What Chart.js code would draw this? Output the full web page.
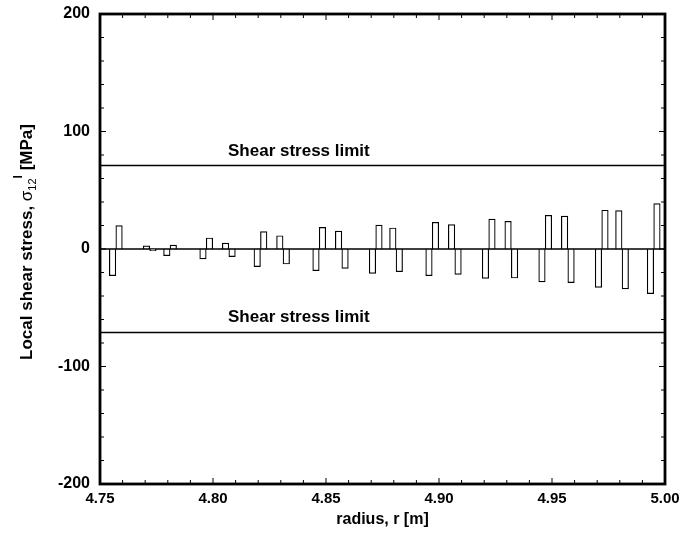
<!DOCTYPE html>
<html>
<head>
<meta charset="utf-8">
<script src="https://cdn.jsdelivr.net/npm/chart.js@4"></script>
<style>
  body { margin: 0; background: #fff; }
  canvas { display: block; }
</style>
</head>
<body>
<canvas id="chart" width="683" height="533"></canvas>
<script>
// pair positions along the radius [m] and the two bars of each pair [MPa]
const radius = [4.757, 4.772, 4.781, 4.797, 4.807, 4.821, 4.831, 4.847, 4.857, 4.872,
                4.881, 4.897, 4.907, 4.922, 4.932, 4.947, 4.957, 4.972, 4.981, 4.995];
const leftBar = [-22.7, 2.6, -5.7, -8.5, 5.1, -15, 11.3, -18.5, 15.3, -20.7,
                 17.9, -22.7, 20.7, -25, 23.6, -28, 28, -32.6, 32.7, -38];
const rightBar = [19.9, -1.4, 3.4, 9.4, -6.5, 14.8, -12.8, 18.4, -16.5, 20.4,
                  -19.3, 22.7, -21.6, 25.5, -24.7, 28.7, -28.6, 33, -34, 38.6];
const shearLimit = 71;
const limitLabel = "Shear stress limit";
const limitLabelRadius = 4.838;
const xRange = [4.75, 5.00];
const yRange = [-200, 200];

const FONT = "'Liberation Sans', Arial, Helvetica, sans-serif";

function hLine(y) {
    return {
        type: "line",
        data: [{ x: xRange[0], y: y }, { x: xRange[1], y: y }],
        borderColor: "#000",
        borderWidth: 1.5,
        pointRadius: 0,
        order: 2
    };
}

function barSet(values) {
    return {
        type: "bar",
        data: radius.map((r, i) => ({ x: r, y: values[i] })),
        backgroundColor: "#fff",
        borderColor: "#000",
        borderWidth: 1.2,
        borderSkipped: false,
        barThickness: 6.5,
        order: 1
    };
}

const frameAndText = {
    id: "frameAndText",
    afterDatasetsDraw(chart) {
        const ctx = chart.ctx;
        const a = chart.chartArea;
        const xs = chart.scales.x;
        const ys = chart.scales.y;
        ctx.save();
        ctx.strokeStyle = "#000";
        ctx.lineWidth = 1;
        // inward ticks on all four sides
        ctx.beginPath();
        for (let i = 0; i <= 25; i++) {
            const px = xs.getPixelForValue(4.75 + i * 0.01);
            const len = i % 5 === 0 ? 6 : 4;
            ctx.moveTo(px, a.bottom); ctx.lineTo(px, a.bottom - len);
            ctx.moveTo(px, a.top); ctx.lineTo(px, a.top + len);
        }
        for (let i = 0; i <= 20; i++) {
            const py = ys.getPixelForValue(-200 + i * 20);
            const len = i % 5 === 0 ? 6 : 4;
            ctx.moveTo(a.left, py); ctx.lineTo(a.left + len, py);
            ctx.moveTo(a.right, py); ctx.lineTo(a.right - len, py);
        }
        ctx.stroke();
        // frame
        ctx.lineWidth = 2.8;
        ctx.strokeRect(a.left, a.top, a.right - a.left, a.bottom - a.top);

        // limit labels
        ctx.fillStyle = "#000";
        ctx.font = "bold 17px " + FONT;
        ctx.textAlign = "center";
        ctx.textBaseline = "alphabetic";
        const lx = xs.getPixelForValue(limitLabelRadius);
        ctx.fillText(limitLabel, lx, ys.getPixelForValue(shearLimit) - 10);
        ctx.fillText(limitLabel, lx, ys.getPixelForValue(-shearLimit) - 10);

        // y axis title with subscript / superscript
        const parts = [
            { t: "Local shear stress, ", f: "bold 17px " + FONT, dy: 0 },
            { t: "\u03C3", f: "17px " + FONT, dy: 0 },
            { t: "12", f: "11px " + FONT, dy: 4 },
            { t: "l", f: "bold 12px " + FONT, dy: -10 },
            { t: " [MPa]", f: "bold 17px " + FONT, dy: 0 }
        ];
        let total = 0;
        parts.forEach(p => { ctx.font = p.f; p.w = ctx.measureText(p.t).width; total += p.w; });
        ctx.translate(32, 242);
        ctx.rotate(-Math.PI / 2);
        ctx.textAlign = "left";
        let x = -total / 2;
        parts.forEach(p => {
            ctx.font = p.f;
            ctx.fillText(p.t, x, p.dy);
            x += p.w;
        });
        ctx.restore();
    }
};

new Chart(document.getElementById("chart"), {
    type: "bar",
    data: {
        datasets: [
            barSet(leftBar),
            barSet(rightBar),
            hLine(shearLimit),
            hLine(-shearLimit),
            hLine(0)
        ]
    },
    options: {
        responsive: false,
        animation: false,
        layout: { padding: { top: 14, right: 18, bottom: 0, left: 0 } },
        plugins: {
            legend: { display: false },
            tooltip: { enabled: false }
        },
        scales: {
            x: {
                type: "linear",
                offset: false,
                min: xRange[0],
                max: xRange[1],
                afterFit: s => {
                    s.height = 49;
                    s.paddingLeft = 0;
                    s.paddingRight = 0;
                },
                ticks: {
                    stepSize: 0.05,
                    padding: 6,
                    color: "#000",
                    font: { family: FONT, size: 15, weight: "bold" },
                    callback: v => Number(v).toFixed(2)
                },
                grid: { display: false, drawTicks: false },
                border: { display: false },
                title: {
                    display: true,
                    text: "radius, r [m]",
                    color: "#000",
                    font: { family: FONT, size: 16, weight: "bold" },
                    padding: { top: 0, bottom: 4 }
                }
            },
            y: {
                min: yRange[0],
                max: yRange[1],
                afterFit: s => {
                    s.width = 100;
                    s.paddingTop = 0;
                    s.paddingBottom = 0;
                },
                ticks: {
                    stepSize: 100,
                    padding: 10,
                    color: "#000",
                    font: { family: FONT, size: 16, weight: "bold" }
                },
                grid: { display: false, drawTicks: false },
                border: { display: false }
            }
        }
    },
    plugins: [frameAndText]
});
</script>
</body>
</html>
